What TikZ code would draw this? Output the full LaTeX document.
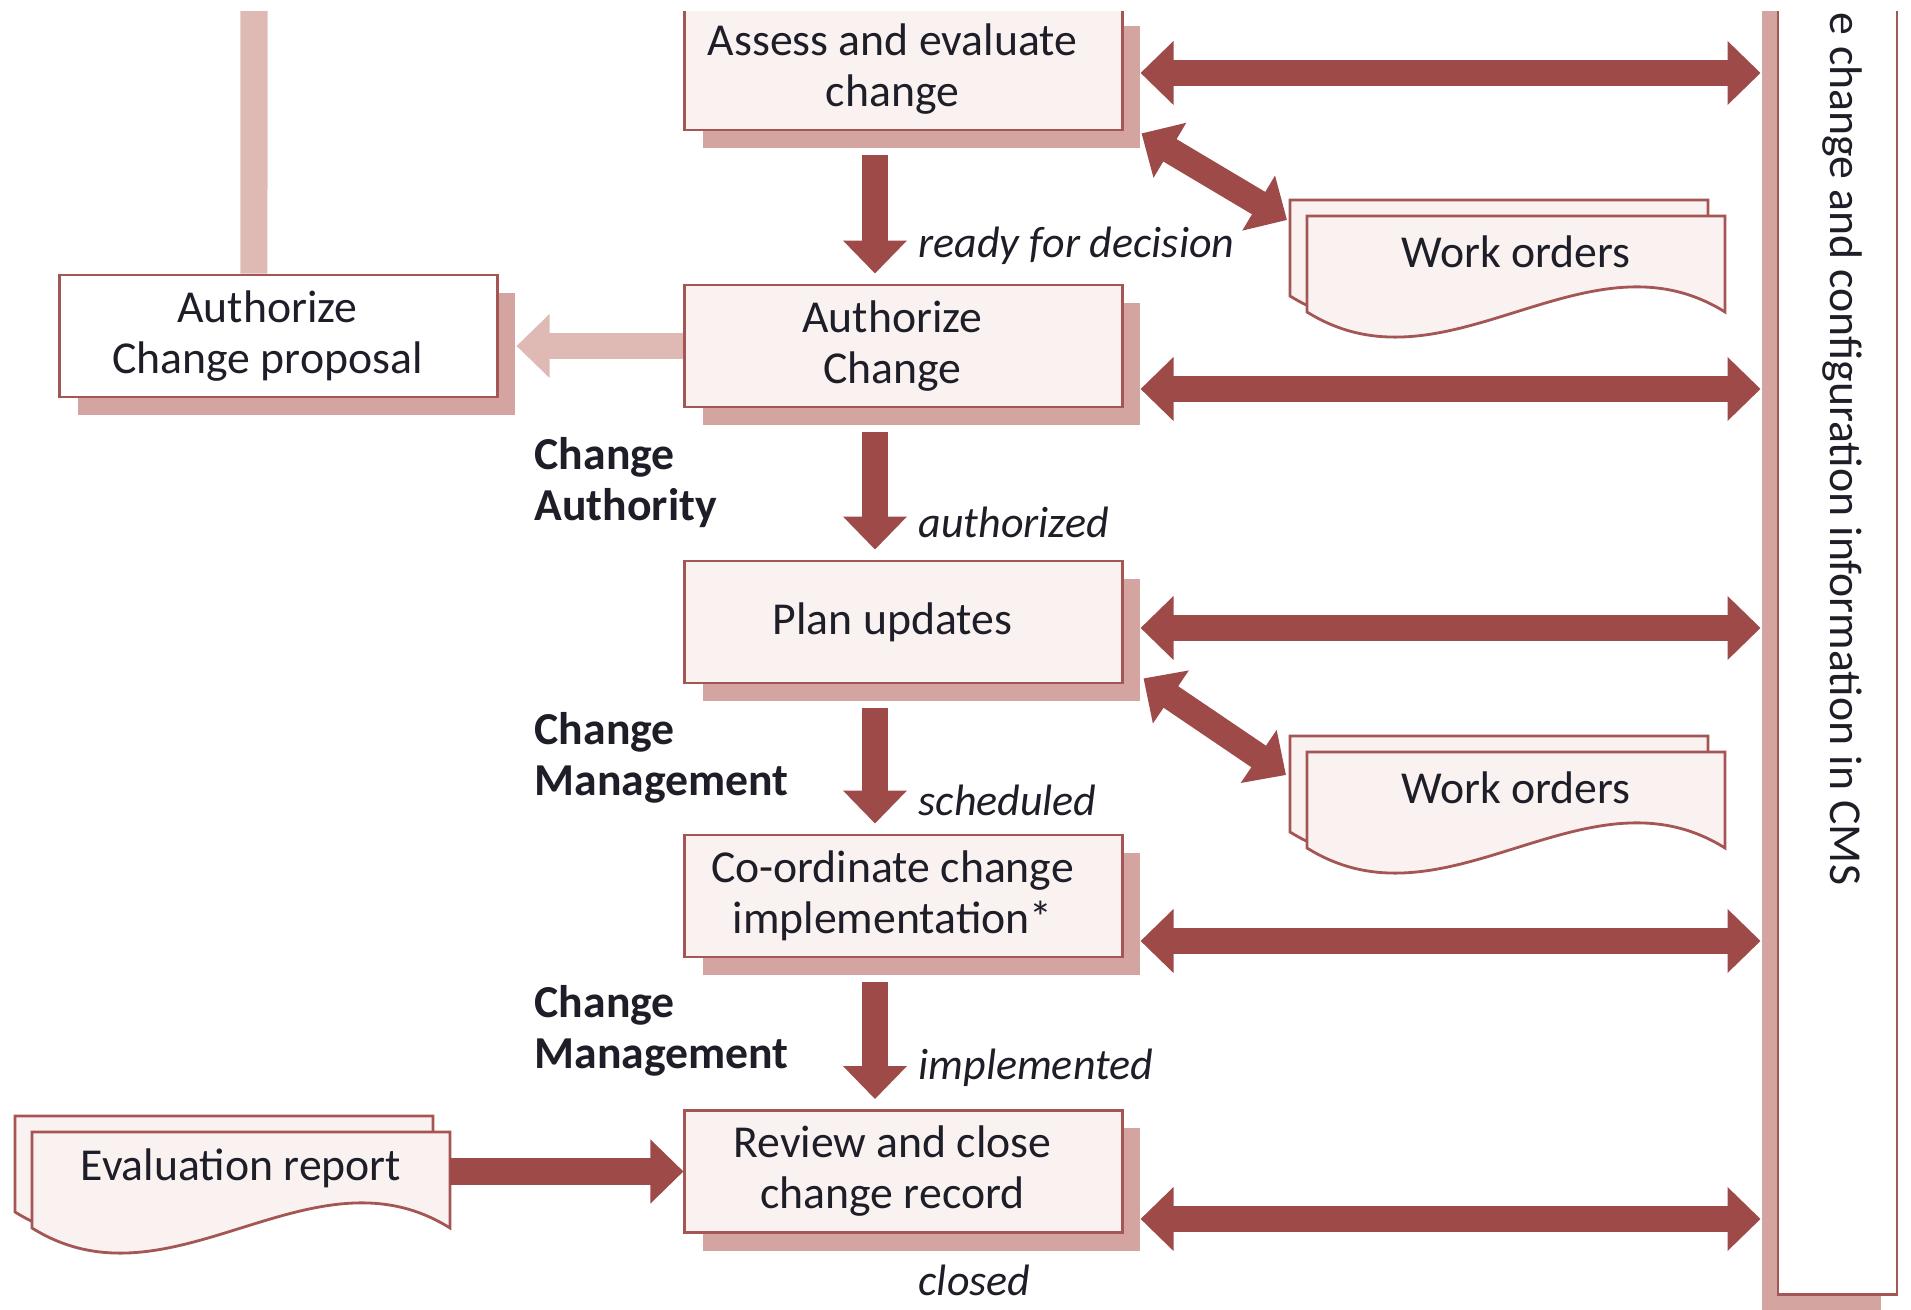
\documentclass[tikz,border=0pt]{standalone}
\usepackage{fontspec}
\setmainfont{Carlito}
\usetikzlibrary{arrows.meta,positioning,calc,shadows}
\definecolor{arrowred}{RGB}{157,74,72}
\definecolor{boxline}{RGB}{163,86,84}
\definecolor{shadowpink}{RGB}{212,164,160}
\definecolor{lightpink}{RGB}{223,186,180}
\definecolor{boxfill}{RGB}{250,242,241}
\definecolor{inkdark}{RGB}{30,30,40}
\newcommand{\boxfont}{\fontsize{13}{14.5}\selectfont}
\newcommand{\padr}{\hspace*{2.2mm}}

% stacked document sheets round a text coordinate
\newcommand{\docpair}[1]{%
  \begin{scope}[shift={(#1)}]
    \filldraw[docsheet] (-226,-52) -- (192,-52) -- (192,44) .. controls (53,-43) and (-87,131) .. (-226,44) -- cycle;
    \filldraw[docsheet] (-209,-36) -- (209,-36) -- (209,60) .. controls (70,-27) and (-70,147) .. (-209,60) -- cycle;
  \end{scope}}

\begin{document}
\begin{tikzpicture}[x=0.01cm, y=-0.01cm,
  stepbox/.style={rectangle, draw=boxline, fill=boxfill, line width=0.8pt, minimum width=4.37cm, minimum height=1.22cm, align=center, font=\boxfont, text=inkdark, drop shadow={shadow xshift=1.8mm, shadow yshift=-1.8mm, fill=shadowpink, opacity=1}},
  panelbox/.style={rectangle, draw=boxline, fill=white, line width=0.8pt, minimum width=1.19cm, minimum height=13.14cm, drop shadow={shadow xshift=-1.6mm, shadow yshift=-1.6mm, fill=shadowpink, opacity=1}},
  paneltext/.style={rotate=-90, anchor=east, font=\boxfont, text=inkdark, inner sep=0pt},
  docsheet/.style={draw=boxline, fill=boxfill, line width=0.8pt},
  doctext/.style={font=\boxfont, text=inkdark, inner sep=0pt},
  statelbl/.style={anchor=west, font=\fontsize{12.5}{14}\selectfont\itshape, text=inkdark, inner sep=0pt},
  rolelbl/.style={anchor=west, align=left, font=\boxfont\bfseries, text=inkdark, inner sep=0pt},
  bigarrow/.style={draw=arrowred, line width=2.6mm, -{Triangle[width=6.2mm,length=3.3mm]}},
  dblarrow/.style={draw=arrowred, line width=2.6mm, {Triangle[width=6.2mm,length=3.3mm]}-{Triangle[width=6.2mm,length=3.3mm]}},
  lightarrow/.style={draw=lightpink, line width=2.6mm, -{Triangle[width=6.2mm,length=3.3mm]}},
  lightbar/.style={draw=lightpink, line width=2.7mm}
]
\useasboundingbox (0,0) rectangle (1911,1310);
\clip (0,12) rectangle (1911,1310);

% CMS panel
\node[panelbox] (panel) at (1837.5,637) {};
\node[paneltext] (cmsinfo) at (1842,886) {e change and configuration information in CMS};

% Process steps
\node[stepbox] (assess) at (903.5,69) {Assess and evaluate\padr\\change\padr};
\node[stepbox] (authc) at (903.5,346) {Authorize\padr\\Change\padr};
\node[stepbox] (plan) at (903.5,622) {Plan updates\padr};
\node[stepbox] (coord) at (903.5,896) {Co-ordinate change\padr\\implementation*\padr};
\node[stepbox] (review) at (903.5,1171.5) {Review and close\padr\\change record\padr};
\node[stepbox, fill=white] (proposal) at (278.5,336) {Authorize\padr\\Change proposal\padr};

% Documents
\coordinate (wo1c) at (1516,252);
\docpair{wo1c}
\node[doctext] (wo1) at (wo1c) {Work orders};
\coordinate (wo2c) at (1516,788);
\docpair{wo2c}
\node[doctext] (wo2) at (wo2c) {Work orders};
\coordinate (evalc) at (241,1168);
\docpair{evalc}
\node[doctext] (evalrep) at (evalc) {Evaluation report};

% Proposal link
\coordinate (pagetop) at (254,0);
\draw[lightbar] ([xshift=-2.45mm]proposal.north) -- (pagetop);
\coordinate (propedge) at ([xshift=1.8mm]proposal.east);
\draw[lightarrow] (authc.west) -- (authc.west -| propedge);

% Flow between steps
\foreach \from/\to in {assess/authc, authc/plan, plan/coord, coord/review}
  \draw[bigarrow, shorten <=2.35mm, shorten >=1mm] ([xshift=-2.85mm]\from.south) -- ([xshift=-2.85mm]\to.north);

\node[statelbl] (lbl1) at (918,246) {ready for decision};
\node[statelbl] (lbl2) at (918,522) {authorized};
\node[statelbl] (lbl3) at (918,800) {scheduled};
\node[statelbl] (lbl4) at (918,1068) {implemented};
\node[statelbl] (lbl5) at (918,1280) {closed};

\node[rolelbl] (role1) at (534,483) {Change\\Authority};
\node[rolelbl] (role2) at (534,758) {Change\\Management};
\node[rolelbl] (role3) at (534,1031) {Change\\Management};

% Exchanges with the CMS
\foreach \nd/\dy in {assess/4, authc/43, plan/6, coord/45, review/47.5} {
  \coordinate (\nd-out) at ($(\nd.east)+(17,\dy)$);
  \draw[dblarrow, shorten >=1.6mm] (\nd-out) -- (\nd-out -| panel.west);
}

% Work orders exchanges
\draw[dblarrow] ($(assess.south east)+(18,2)$) -- ($(wo1)+(-229,-32)$);
\draw[dblarrow] ($(plan.south east)+(20,-6)$) -- ($(wo2)+(-230,-13)$);

% Evaluation input
\coordinate (evaledge) at ($(evalrep)+(209,0)$);
\draw[bigarrow] (evaledge |- review.west) -- (review.west);

\end{tikzpicture}
\end{document}
